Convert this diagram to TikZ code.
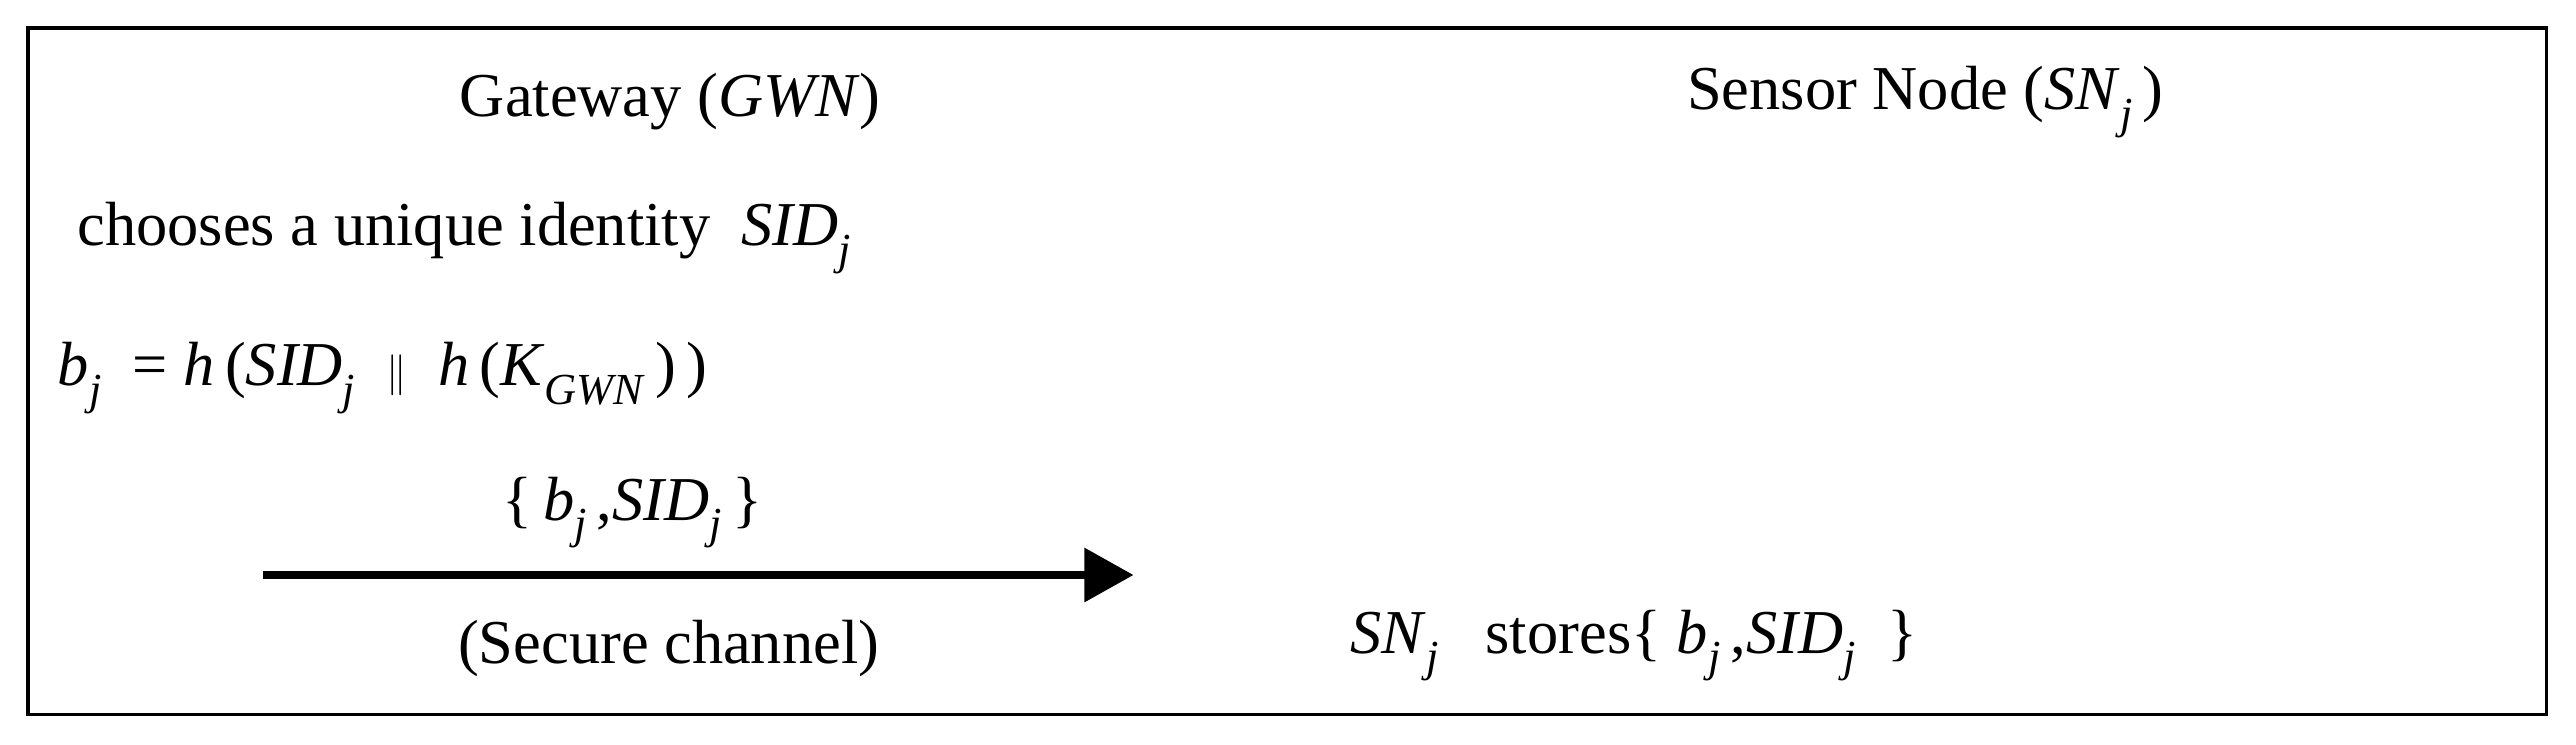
\documentclass[tikz,border=0pt]{standalone}
\usepackage{fontspec}
\setmainfont{Liberation Serif}
\usetikzlibrary{arrows.meta}
\newcommand{\mv}[1]{\textit{#1}}
\newcommand{\sbj}[1]{\raisebox{-0.3em}{\fontsize{27}{30}\selectfont\textit{#1}}}
\begin{document}
\begin{tikzpicture}[x=1pt,y=-1pt,
  txt/.style={font=\fontsize{38}{44}\selectfont, inner sep=0pt}]
\useasboundingbox (0,0) rectangle (1568,453);
\draw[line width=2pt] (17,17) rectangle (1550,435);
\node[txt] (gw) at (408,62) {Gateway (\mv{GWN})};
\node[txt] (sn) at (1172,62) {Sensor Node (\mv{SN}\sbj{j}\,)};
\node[txt, anchor=west] (ch) at (47,145) {chooses a unique identity\ \ \mv{SID}\sbj{j}};
\node[txt, anchor=west] (bj) at (35,230) {\mv{b}\sbj{j}\ \ = \mv{h}\,(\mv{SID}\sbj{j}\ \ {\fontsize{28}{30}\selectfont$\Vert$}\ \ \mv{h}\,(\mv{K}\sbj{GWN}\,)\,)};
\node[txt] (msg) at (385,312) {\{\,\mv{b}\sbj{j}\,,\mv{SID}\sbj{j}\,\}};
\coordinate (a1) at (160,350);
\coordinate (a2) at (690,350);
\draw[line width=5pt, -{Triangle[length=30pt,width=32pt]}] (a1) -- (a2);
\node[txt] (sec) at (407,395) {(Secure channel)};
\node[txt, anchor=west] (st) at (822,393) {\mv{SN}\sbj{j}\ \ \ stores\{ \mv{b}\sbj{j}\,,\mv{SID}\sbj{j} \ \}};
\end{tikzpicture}
\end{document}
